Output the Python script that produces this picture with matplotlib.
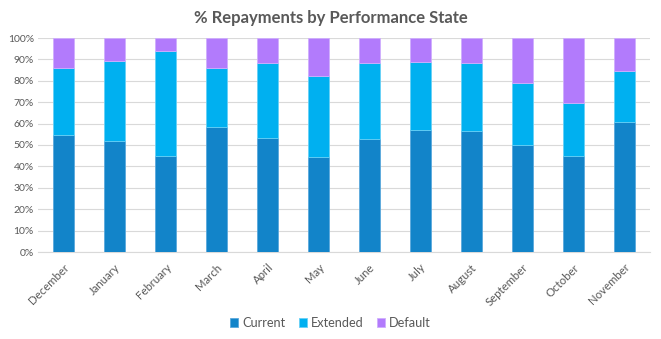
import matplotlib.pyplot as plt
import numpy as np
from matplotlib.ticker import PercentFormatter

plt.rcParams['font.family'] = ['Lato', 'DejaVu Sans']

months = ['December', 'January', 'February', 'March', 'April', 'May',
          'June', 'July', 'August', 'September', 'October', 'November']
current = [54.7, 51.7, 45.0, 58.4, 53.1, 44.4, 52.8, 57.2, 56.6, 49.8, 44.8, 60.9]
current_plus_ext = [85.8, 89.4, 94.1, 86.1, 88.4, 82.2, 88.1, 88.6, 88.1, 78.9, 69.4, 84.7]
extended = [t - c for t, c in zip(current_plus_ext, current)]
default = [100 - t for t in current_plus_ext]

fig = plt.figure(figsize=(6.61, 3.39), dpi=100)
ax = fig.add_axes([38/661, 1-252/339, 612/661, 214/339])

x = np.arange(len(months))
w = 0.4
ax.bar(x, current, w, color='#1284C9', edgecolor='#5aa9dc', linewidth=0.6, label='Current', zorder=3)
ax.bar(x, extended, w, bottom=current, color='#00B0F0', edgecolor='#66d0f6', linewidth=0.6, label='Extended', zorder=3)
ax.bar(x, default, w, bottom=current_plus_ext, color='#B27BFC', edgecolor='#cfaefd', linewidth=0.6, label='Default', zorder=3)

ax.set_ylim(0, 100)
ax.set_xlim(-0.5, len(months) - 0.5)
ax.set_yticks(range(0, 101, 10))
ax.yaxis.set_major_formatter(PercentFormatter(decimals=0))
ax.grid(axis='y', color='#d9d9d9', linewidth=0.8, zorder=0)
for s in ['top', 'right', 'left']:
    ax.spines[s].set_visible(False)
ax.spines['bottom'].set_color('#d9d9d9')
ax.tick_params(axis='y', length=0, labelsize=7.5, colors='#595959', pad=3)
ax.tick_params(axis='x', length=0, labelsize=8.2, colors='#595959', pad=7)
ax.set_xticks(x)
ax.set_xticklabels(months, rotation=45, ha='right', rotation_mode='anchor')

fig.text(0.5, 1-18/339, '% Repayments by Performance State', ha='center', va='center',
         fontsize=12, fontweight='bold', color='#595959')
fig.legend(loc='center', bbox_to_anchor=(0.5, 1-323/339), ncol=3, frameon=False,
           fontsize=9.2, handlelength=0.6, handleheight=0.6, handletextpad=0.3,
           columnspacing=1.1, labelcolor='#595959')

plt.savefig('out.png', dpi=100)
